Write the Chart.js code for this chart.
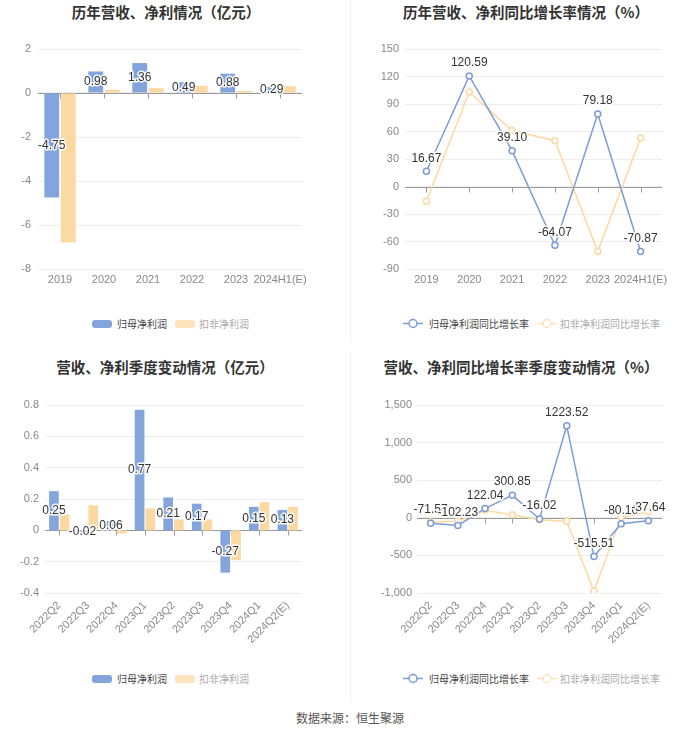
<!DOCTYPE html>
<html><head><meta charset="utf-8">
<script src="https://cdn.jsdelivr.net/npm/chart.js@4.4.1/dist/chart.umd.min.js"></script>
<style>
body{margin:0;width:700px;height:734px;background:#fff;position:relative;overflow:hidden;font-family:"Noto Sans CJK SC","Noto Sans",sans-serif;}
.t{position:absolute;font-weight:bold;font-size:14.5px;color:#333;white-space:nowrap;transform:translate(-50%,-50%);line-height:1;}
.w{position:absolute;}
.lg{position:absolute;font-size:10px;line-height:1;white-space:nowrap;transform:translateY(-50%);}
.sw{position:absolute;width:20px;height:8px;border-radius:3px;transform:translateY(-50%);}
.src{position:absolute;left:350px;top:718px;transform:translate(-50%,-50%);font-size:12px;color:#555;white-space:nowrap;line-height:1;}
.vd{position:absolute;left:350px;width:1px;background:#f0f0f0;}
</style></head><body>
<div class="vd" style="top:0;height:342px"></div>
<div class="vd" style="top:352px;height:350px"></div>

<div class="t" style="left:166px;top:12px">历年营收、净利情况（亿元）</div>
<div class="t" style="left:526px;top:12px">历年营收、净利同比增长率情况（%）</div>
<div class="t" style="left:165px;top:367px">营收、净利季度变动情况（亿元）</div>
<div class="t" style="left:521px;top:367px">营收、净利同比增长率季度变动情况（%）</div>

<div class="w" style="left:0;top:30px"><canvas id="c1" width="350" height="270"></canvas></div>
<div class="w" style="left:350px;top:30px"><canvas id="c2" width="350" height="270"></canvas></div>
<div class="w" style="left:0;top:380px"><canvas id="c3" width="350" height="290"></canvas></div>
<div class="w" style="left:350px;top:380px"><canvas id="c4" width="350" height="290"></canvas></div>

<!-- legends -->
<div class="sw" style="left:92px;top:323.5px;background:#83a5dc"></div>
<div class="lg" style="left:117px;top:323.5px;color:#444">归母净利润</div>
<div class="sw" style="left:175px;top:323.5px;background:#fee3bd"></div>
<div class="lg" style="left:199px;top:323.5px;color:#aaa">扣非净利润</div>

<div class="sw" style="left:92px;top:678.5px;background:#83a5dc"></div>
<div class="lg" style="left:117px;top:678.5px;color:#444">归母净利润</div>
<div class="sw" style="left:175px;top:678.5px;background:#fee3bd"></div>
<div class="lg" style="left:199px;top:678.5px;color:#aaa">扣非净利润</div>

<svg style="position:absolute;left:400px;top:316px" width="30" height="15"><line x1="3" y1="7.5" x2="23" y2="7.5" stroke="#7b9cd6" stroke-width="1.5"/><circle cx="13" cy="7.5" r="4" fill="#fff" stroke="#7b9cd6" stroke-width="1.5"/></svg>
<div class="lg" style="left:429px;top:323.5px;color:#444">归母净利润同比增长率</div>
<svg style="position:absolute;left:534px;top:316px" width="30" height="15"><line x1="3" y1="7.5" x2="23" y2="7.5" stroke="#fee3bd" stroke-width="1.5"/><circle cx="13" cy="7.5" r="4" fill="#fff" stroke="#fee3bd" stroke-width="1.5"/></svg>
<div class="lg" style="left:560px;top:323.5px;color:#aaa">扣非净利润同比增长率</div>

<svg style="position:absolute;left:400px;top:671px" width="30" height="15"><line x1="3" y1="7.5" x2="23" y2="7.5" stroke="#7b9cd6" stroke-width="1.5"/><circle cx="13" cy="7.5" r="4" fill="#fff" stroke="#7b9cd6" stroke-width="1.5"/></svg>
<div class="lg" style="left:429px;top:678.5px;color:#444">归母净利润同比增长率</div>
<svg style="position:absolute;left:534px;top:671px" width="30" height="15"><line x1="3" y1="7.5" x2="23" y2="7.5" stroke="#fee3bd" stroke-width="1.5"/><circle cx="13" cy="7.5" r="4" fill="#fff" stroke="#fee3bd" stroke-width="1.5"/></svg>
<div class="lg" style="left:560px;top:678.5px;color:#aaa">扣非净利润同比增长率</div>

<div class="src">数据来源：恒生聚源</div>

<script>
// ---- data ----
const yearCats = ['2019','2020','2021','2022','2023','2024H1(E)'];
const yearNet = [-4.75, 0.98, 1.36, 0.49, 0.88, 0.29];
const yearDeduct = [-6.8, 0.15, 0.22, 0.33, 0.10, 0.31];
const yearNetGrowth = [16.67, 120.59, 39.10, -64.07, 79.18, -70.87];
const yearDeductGrowth = [-16, 103, 61, 50, -71, 53];

const quarterCats = ['2022Q2','2022Q3','2022Q4','2023Q1','2023Q2','2023Q3','2023Q4','2024Q1','2024Q2(E)'];
const quarterNet = [0.25, -0.02, 0.06, 0.77, 0.21, 0.17, -0.27, 0.15, 0.13];
const quarterDeduct = [0.10, 0.16, -0.02, 0.14, 0.07, 0.07, -0.19, 0.18, 0.15];
const quarterNetGrowth = [-71.57, -102.23, 122.04, 300.85, -16.02, 1223.52, -515.51, -80.10, -37.64];
const quarterDeductGrowth = [-55, -45, 100, 40, -25, -45, -975, 5, 80];

const seriesNames = ['归母净利润','扣非净利润','归母净利润同比增长率','扣非净利润同比增长率'];

const BLUE = '#83a5dc', YELLOW = '#fdd9a2', LBLUE = '#7b9cd6', LYEL = '#fdd9a2';
const FONT = '"Liberation Sans","Noto Sans CJK SC",sans-serif';

const labelPlugin = {
  id: 'vlabels',
  afterDatasetsDraw(chart) {
    const meta = chart.getDatasetMeta(0);
    const ds = chart.data.datasets[0];
    const ctx = chart.ctx;
    ctx.save();
    ctx.font = '12px ' + FONT;
    ctx.textAlign = 'center';
    ctx.textBaseline = 'middle';
    ctx.lineJoin = 'round';
    meta.data.forEach((el, i) => {
      const txt = ds.data[i].toFixed(2);
      const x = el.x;
      const y = meta.type === 'bar' ? (el.y + el.base) / 2 : el.y - 13;
      ctx.lineWidth = 3;
      ctx.strokeStyle = 'rgba(255,255,255,0.9)';
      ctx.strokeText(txt, x, y);
      ctx.fillStyle = '#333';
      ctx.fillText(txt, x, y);
    });
    ctx.restore();
  }
};

const zeroPlugin = {
  id: 'zeroline',
  beforeDatasetsDraw(chart) {
    const ctx = chart.ctx, ca = chart.chartArea;
    const y0 = Math.round(chart.scales.y.getPixelForValue(0)) + 0.5;
    ctx.save();
    ctx.strokeStyle = '#9a9a9a';
    ctx.lineWidth = 1;
    ctx.beginPath();
    ctx.moveTo(ca.left, y0); ctx.lineTo(ca.right, y0);
    const n = chart.data.labels.length;
    for (let i = 0; i < n; i++) {
      const x = Math.round(chart.scales.x.getPixelForValue(i)) + 0.5;
      ctx.moveTo(x, y0); ctx.lineTo(x, y0 + 5);
    }
    ctx.stroke();
    ctx.restore();
  }
};

function opts(c) {
  return {
    responsive: false, animation: false,
    layout: { padding: { left: 0, right: c.right, top: c.top, bottom: 0 } },
    plugins: { legend: { display: false }, tooltip: { enabled: false } },
    scales: {
      x: {
        grid: { display: false, drawTicks: false }, border: { display: false },
        ticks: { color: '#888', font: { size: 11, family: FONT }, padding: c.xpad,
                 maxRotation: c.rot, minRotation: c.rot, autoSkip: false },
        afterFit(s) { s.height = c.xh; }
      },
      y: {
        min: c.min, max: c.max,
        grid: { color: '#eeeeee', drawTicks: false }, border: { display: false },
        ticks: { stepSize: c.step, color: '#888', font: { size: 11, family: FONT }, padding: c.ypad,
                 callback: c.fmt },
        afterFit(s) { s.width = c.yw; }
      }
    }
  };
}

function barDs(label, data, color) {
  return { type: 'bar', label, data, backgroundColor: color, categoryPercentage: 0.75, barPercentage: 0.9 };
}
function lineDs(label, data, color) {
  return { type: 'line', label, data, borderColor: color, borderWidth: 1.5, pointRadius: 3,
           pointBorderWidth: 1.5, pointBackgroundColor: '#fff', pointBorderColor: color, tension: 0 };
}

new Chart(document.getElementById('c1'), {
  type: 'bar',
  data: { labels: yearCats, datasets: [barDs(seriesNames[0], yearNet, BLUE), barDs(seriesNames[1], yearDeduct, YELLOW)] },
  options: opts({ right: 48, top: 19, xh: 31, xpad: 4, rot: 0, yw: 38, ypad: 7, min: -8, max: 2, step: 2,
                  fmt: v => String(v) }),
  plugins: [zeroPlugin, labelPlugin]
});

new Chart(document.getElementById('c2'), {
  type: 'line',
  data: { labels: yearCats, datasets: [lineDs(seriesNames[2], yearNetGrowth, LBLUE), lineDs(seriesNames[3], yearDeductGrowth, LYEL)] },
  options: (() => { const o = opts({ right: 38, top: 19, xh: 31, xpad: 4, rot: 0, yw: 55, ypad: 6, min: -90, max: 150, step: 30,
                  fmt: v => String(v) }); o.scales.x.offset = true; return o; })(),
  plugins: [zeroPlugin, labelPlugin]
});

new Chart(document.getElementById('c3'), {
  type: 'bar',
  data: { labels: quarterCats, datasets: [barDs(seriesNames[0], quarterNet, BLUE), barDs(seriesNames[1], quarterDeduct, YELLOW)] },
  options: opts({ right: 48, top: 25, xh: 77, xpad: 6, rot: 45, yw: 45, ypad: 6, min: -0.4, max: 0.8, step: 0.2,
                  fmt: v => String(Math.round(v * 10) / 10) }),
  plugins: [zeroPlugin, labelPlugin]
});

new Chart(document.getElementById('c4'), {
  type: 'line',
  data: { labels: quarterCats, datasets: [lineDs(seriesNames[2], quarterNetGrowth, LBLUE), lineDs(seriesNames[3], quarterDeductGrowth, LYEL)] },
  options: (() => { const o = opts({ right: 38, top: 25, xh: 77, xpad: 6, rot: 45, yw: 67, ypad: 5, min: -1000, max: 1500, step: 500,
                  fmt: v => Number(v).toLocaleString('en-US') }); o.scales.x.offset = true; return o; })(),
  plugins: [zeroPlugin, labelPlugin]
});
</script>
</body></html>
